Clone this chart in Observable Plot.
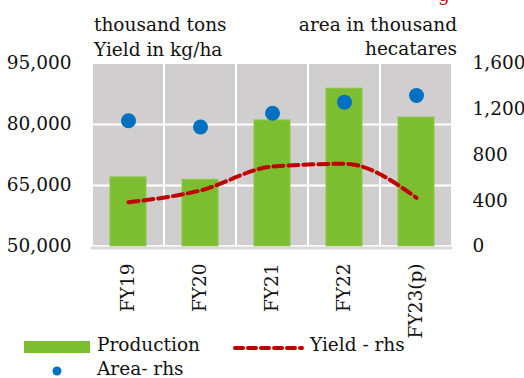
<!DOCTYPE html>
<html>
<head>
<meta charset="utf-8">
<script src="https://cdn.jsdelivr.net/npm/d3@7"></script>
<script src="https://cdn.jsdelivr.net/npm/@observablehq/plot@0.6"></script>
<style>
  html, body { margin: 0; padding: 0; background: #fff; }
  #wrap { position: relative; width: 524px; height: 378px; overflow: hidden; font-family: "DejaVu Serif", serif; color: #111; }
  .t { position: absolute; font-size: 18.5px; white-space: nowrap; line-height: 1; }
  .sw { position: absolute; }
</style>
</head>
<body>
<div id="wrap">
  <div id="chart" style="position:absolute;left:0;top:0;"></div>
  <div class="t" style="left:438px;top:-14px;color:#c00000;">g</div>
  <div class="t" style="left:94px;top:16px;">thousand tons</div>
  <div class="t" style="left:94px;top:41px;">Yield in kg/ha</div>
  <div class="t" style="right:67px;top:16px;text-align:right;">area in thousand</div>
  <div class="t" style="right:67px;top:40px;text-align:right;">hecatares</div>
  <!-- legend -->
  <div class="sw" style="left:24px;top:341px;width:66px;height:12px;background:#7dbe31;"></div>
  <div class="t" style="left:97px;top:336px;">Production</div>
  <svg class="sw" style="left:232px;top:342px;" width="72" height="12"><line x1="3" y1="6" x2="70" y2="6" stroke="#c00000" stroke-width="4" stroke-dasharray="8,5" stroke-linecap="round"/></svg>
  <div class="t" style="left:310px;top:336px;">Yield - rhs</div>
  <svg class="sw" style="left:50px;top:364px;" width="14" height="14"><circle cx="7" cy="7" r="4.5" fill="#0070c0"/></svg>
  <div class="t" style="left:97px;top:360px;">Area- rhs</div>
</div>
<script>
const categories = ["FY19", "FY20", "FY21", "FY22", "FY23(p)"];
const production = [67000, 66400, 81000, 88800, 81700];   // thousand tons (lhs)
const area = [1100, 1045, 1165, 1262, 1320];              // thousand hectares (rhs)
const yieldKg = [387, 490, 699, 723, 426];                // kg/ha (rhs)
const leftTicks = [50000, 65000, 80000, 95000];
const rightTicks = [0, 400, 800, 1200, 1600];

const lMin = 50000, lMax = 95000, rMax = 1600;
const toLeft = v => lMin + v / rMax * (lMax - lMin);
const toRight = v => (v - lMin) / (lMax - lMin) * rMax;

const rows = categories.map((c, i) => ({
  cat: c, production: production[i], area: toLeft(area[i]), yieldV: toLeft(yieldKg[i])
}));

const fmt = d3.format(",");
const chart = Plot.plot({
  width: 524,
  height: 345,
  marginLeft: 91,
  marginRight: 72,
  marginTop: 63,
  marginBottom: 99,
  style: { fontFamily: "DejaVu Serif, serif", fontSize: "18.5px", color: "#111", background: "transparent" },
  x: { type: "band", domain: categories, padding: 0, label: null },
  y: { domain: [lMin, lMax], label: null },
  marks: [
    Plot.barY(categories, { x: d => d, y1: lMin, y2: lMax, fill: "#d0cece", stroke: "white", strokeWidth: 2 }),
    Plot.ruleY(leftTicks.filter(t => t > lMin && t < lMax), { stroke: "white", strokeWidth: 2 }),
    Plot.barY(rows, { x: "cat", y1: lMin, y2: "production", fill: "#7dbe31", stroke: "#8cc84a", strokeWidth: 1, insetLeft: 18, insetRight: 18 }),
    Plot.line(rows, { x: "cat", y: "yieldV", stroke: "#c00000", strokeWidth: 4, strokeDasharray: "10,5", strokeLinecap: "round", curve: "monotone-x" }),
    Plot.dot(rows, { x: "cat", y: "area", r: 7.5, fill: "#0070c0" }),
    Plot.ruleY([lMin], { stroke: "#d9d9d9", strokeWidth: 3, dy: 1.5 }),
    Plot.axisY(leftTicks, { anchor: "left", tickFormat: fmt, tickSize: 0, tickPadding: 20, label: null }),
    Plot.axisY(rightTicks.map(toLeft), { anchor: "right", tickFormat: v => fmt(Math.round(toRight(v))), tickSize: 0, tickPadding: 20, textAnchor: "start", label: null }),
    Plot.axisX(categories, { tickRotate: -90, tickSize: 0, tickPadding: 17, label: null })
  ]
});
document.getElementById("chart").appendChild(chart);
</script>
</body>
</html>
